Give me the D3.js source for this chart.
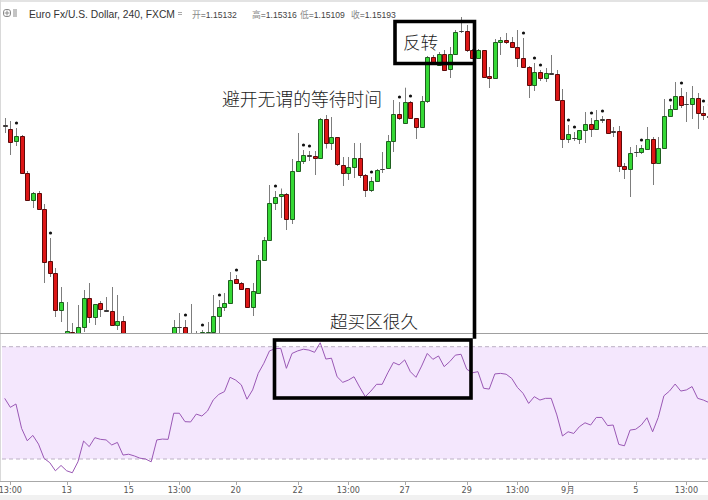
<!DOCTYPE html>
<html><head><meta charset="utf-8">
<script src="https://cdn.jsdelivr.net/npm/d3@7"></script>
<style>html,body{margin:0;padding:0;background:#fff;overflow:hidden}svg{display:block}</style>
</head><body>
<svg id="c" width="708" height="500"></svg>
<script>
// ---- data (EUR/USD 4h candles) ----
const opens = [1.16345,1.1631,1.1619,1.1624,1.1587,1.1560,1.1567,1.1551,1.1499,1.1487,1.1450,1.1420,1.1428,1.1418,1.1433,1.1462,1.1443,1.1457,1.14505,1.1449,1.1435,1.1439,1.1422,1.1410,1.1404,1.1398,1.1395,1.1380,1.1408,1.1410,1.1409,1.14328,1.1433,1.1418,1.1422,1.1419,1.1422,1.1428,1.1444,1.1453,1.1457,1.1481,1.1477,1.1472,1.1453,1.1467,1.1500,1.1520,1.1557,1.1564,1.15665,1.15405,1.1589,1.1599,1.1605,1.1604,1.1602,1.1641,1.1617,1.16225,1.1595,1.1587,1.1593,1.1602,1.15855,1.15705,1.1579,1.1591,1.1592,1.1619,1.1646,1.1637,1.1658,1.1642,1.1633,1.1659,1.1703,1.1695,1.1706,1.1691,1.1706,1.1729,1.17285,1.1710,1.1702,1.1710,1.1684,1.1682,1.1718,1.1720,1.1718,1.1713,1.1702,1.1693,1.1675,1.1688,1.1682,1.16865,1.1686,1.1660,1.1621,1.1622,1.1621,1.1630,1.1636,1.1631,1.1640,1.1641,1.1629,1.1629,1.1594,1.1591,1.1608,1.1608,1.1611,1.1621,1.1597,1.1612,1.1644,1.1651,1.1664,1.1656,1.1656,1.1662,1.1647,1.1644];
const highs = [1.1642,1.1639,1.1632,1.1625,1.1589,1.1568,1.1569,1.1556,1.1522,1.1492,1.1473,1.1458,1.1437,1.1455,1.1470,1.1477,1.1456,1.1459,1.1463,1.1473,1.1465,1.1444,1.1426,1.1418,1.1410,1.1405,1.1399,1.1412,1.1415,1.1414,1.1440,1.1447,1.1440,1.1456,1.1429,1.1430,1.1438,1.1465,1.1460,1.1467,1.1488,1.1485,1.1478,1.1472,1.1477,1.1505,1.1523,1.1575,1.1569,1.15715,1.1567,1.1601,1.1627,1.1610,1.1609,1.1609,1.1642,1.1645,1.1643,1.1623,1.1603,1.1603,1.1617,1.1617,1.1586,1.1583,1.1591,1.1608,1.1625,1.1660,1.1658,1.16723,1.1659,1.1642,1.1664,1.1704,1.1705,1.1708,1.1710,1.1713,1.1730,1.1743,1.1735,1.1711,1.1711,1.1710,1.1693,1.1721,1.1723,1.1727,1.1723,1.1730,1.1722,1.1694,1.1697,1.1690,1.1692,1.1705,1.1690,1.1671,1.1635,1.1628,1.1630,1.1648,1.1642,1.1650,1.1644,1.1641,1.1633,1.1634,1.1597,1.1613,1.1615,1.1615,1.1633,1.1623,1.1623,1.1661,1.1655,1.1678,1.1672,1.1668,1.1674,1.1667,1.1654,1.1650];
const lows = [1.1627,1.1605,1.1614,1.1586,1.1559,1.1552,1.1550,1.1477,1.1483,1.1443,1.1438,1.1410,1.1412,1.1410,1.1428,1.1437,1.1435,1.1443,1.1448,1.1434,1.1430,1.1415,1.1405,1.1398,1.1392,1.1388,1.1372,1.1377,1.1400,1.1402,1.1405,1.1424,1.1418,1.1412,1.1410,1.1412,1.1418,1.1424,1.1427,1.1449,1.1457,1.1476,1.1470,1.1453,1.1444,1.1467,1.1499,1.1520,1.1550,1.1542,1.1530,1.1536,1.1588,1.1596,1.1599,1.1585,1.1602,1.16115,1.1610,1.1594,1.1574,1.1580,1.1582,1.1582,1.1563,1.1568,1.1578,1.1587,1.1592,1.1608,1.1640,1.1636,1.1641,1.1621,1.1633,1.1657,1.1698,1.1695,1.1689,1.1682,1.1706,1.1727,1.1708,1.1701,1.1701,1.1682,1.1672,1.1682,1.1705,1.1716,1.1712,1.1693,1.1693,1.1662,1.1669,1.1679,1.1678,1.1686,1.1660,1.1612,1.1617,1.1619,1.1616,1.1617,1.1623,1.1630,1.1637,1.1627,1.1623,1.1588,1.1581,1.1563,1.1603,1.1606,1.1611,1.1575,1.1597,1.1612,1.1644,1.1651,1.1652,1.1638,1.1641,1.1631,1.1640,1.1638];
const closes = [1.16335,1.1618,1.1624,1.1587,1.1560,1.1567,1.1551,1.1498,1.1487,1.1450,1.1458,1.1429,1.1420,1.1433,1.1462,1.1443,1.1456,1.1451,1.14495,1.1435,1.1439,1.1422,1.1410,1.1404,1.1398,1.1395,1.1380,1.1408,1.1410,1.1409,1.1433,1.14325,1.1423,1.1422,1.1419,1.1428,1.14285,1.1444,1.1453,1.1457,1.1480,1.1477,1.1471,1.1453,1.1469,1.1500,1.1520,1.1557,1.15635,1.1566,1.15405,1.1589,1.1599,1.1605,1.1604,1.1602,1.1641,1.1617,1.16225,1.15955,1.1587,1.1593,1.1602,1.15855,1.15705,1.1579,1.1590,1.15915,1.1619,1.16465,1.1642,1.1658,1.1642,1.1633,1.1659,1.1703,1.1698,1.1706,1.1690,1.1706,1.1728,1.17285,1.1710,1.1702,1.1710,1.1683,1.16817,1.1718,1.1720,1.1718,1.1713,1.1702,1.1693,1.1675,1.1688,1.1682,1.1687,1.1686,1.1660,1.1621,1.1626,1.16215,1.1630,1.1636,1.1631,1.1640,1.16405,1.1627,1.16285,1.1594,1.15907,1.1607,1.16085,1.1612,1.1621,1.1597,1.1612,1.1644,1.1651,1.1664,1.1655,1.16555,1.1662,1.1647,1.1645,1.1643];
const rsiValues = [51.6,48.4,49.6,40.9,36.5,38.4,35.3,30.2,28.7,25.8,27.7,25.8,25.1,29.0,36.4,34.4,37.6,37.0,36.8,35.0,35.9,31.4,31.7,31.1,30.3,30.0,29.0,36.8,37.1,37.0,46.3,46.3,43.3,43.2,46.0,45.3,47.1,51.0,53.0,54.0,59.1,58.1,56.4,51.3,54.6,60.5,64.1,68.5,69.3,69.4,62.3,67.6,68.5,69.1,68.8,68.0,71.4,65.6,65.9,59.3,57.3,58.1,59.3,55.6,52.2,54.2,56.6,56.6,60.7,64.4,63.5,65.3,61.1,59.1,63.1,67.6,65.5,66.7,62.9,64.7,67.0,67.3,62.0,60.7,61.1,55.2,54.9,60.3,60.5,60.2,58.7,55.5,53.4,49.8,52.2,51.0,51.6,51.6,45.7,38.2,39.7,39.1,41.5,42.9,42.1,44.8,44.8,41.9,42.1,35.2,34.7,40.3,40.6,42.1,44.7,39.7,44.8,52.5,54.2,56.7,54.2,54.6,55.8,51.6,51.0,50.1];
const markerIdx = [2,8,32,35,38,41,48,53,54,65,70,72,92,94,95,100,101,104,106,113,118,120,124,125];
const tickIdx = [1,11,22,31,41,52,61,71,82,91,100,112,121];
const tickLabels = ["13:00","13","15","13:00","20","22","13:00","27","29","13:00","9月","5","13:00"];
const headerLabels = ["开","高","低","收"];
const headerValues = ["1.15132","1.15316","1.15109","1.15193"];
const rsiLevels = [70,30];

// ---- drawing ----
const svg = d3.select("#c");
const W = 708, H = 500, paneBottom = 333;
const x = d3.scaleLinear().domain([0,125]).range([4.7, 4.7+125*5.634]);
const y = d3.scaleLinear().domain([1.1427,1.1760]).range([paneBottom,0]);
const yr = d3.scaleLinear().domain([30,70]).range([459,346.7]);

svg.append("rect").attr("x",0).attr("y",0).attr("width",W).attr("height",H).attr("fill","#fff");
// frame
svg.append("line").attr("x1",0).attr("x2",W).attr("y1",1).attr("y2",1).attr("stroke","#e3e3e3").attr("stroke-width",2);
svg.append("line").attr("x1",0.5).attr("x2",0.5).attr("y1",0).attr("y2",482).attr("stroke","#d9d9d9");
svg.append("rect").attr("x",0).attr("y",495).attr("width",W).attr("height",5).attr("fill","#f1f1f1");

// price pane
const defs = svg.append("defs");
defs.append("clipPath").attr("id","pc").append("rect").attr("x",0).attr("y",0).attr("width",W).attr("height",paneBottom);
const pg = svg.append("g").attr("clip-path","url(#pc)");
const candles = opens.map((o,i)=>({i,o,h:highs[i],l:lows[i],c:closes[i]}));
pg.selectAll("line.w").data(candles).join("line").attr("class","w")
  .attr("x1",d=>Math.round(x(d.i))+0.5).attr("x2",d=>Math.round(x(d.i))+0.5)
  .attr("y1",d=>y(d.h)).attr("y2",d=>y(d.l)).attr("stroke","#7d7d7d").attr("stroke-width",1);
pg.selectAll("path.b").data(candles).join("path").attr("class","b")
  .attr("d",d=>{
    const cx = Math.round(x(d.i));
    const t = Math.round(y(Math.max(d.o,d.c)))+0.5;
    const b = Math.max(Math.round(y(Math.min(d.o,d.c)))+0.5, t);
    return `M${cx-1.5},${t}H${cx+2.5}V${b}H${cx-1.5}Z`;
  })
  .attr("fill",d=>d.c>=d.o?"#35d935":"#dd1616")
  .attr("stroke",d=>{
    const flat = Math.abs(y(d.o)-y(d.c))<1.2;
    if(flat) return "#3a3a3a";
    return d.c>=d.o?"#1f5f1f":"#5c0a0a";
  })
  .attr("stroke-width",1);
pg.selectAll("circle.m").data(markerIdx.map(i=>candles[i])).join("circle").attr("class","m")
  .attr("cx",d=>Math.round(x(d.i))+0.5).attr("cy",d=>y(d.h)-5).attr("r",1.6).attr("fill","#111");

// separator
svg.append("line").attr("x1",0).attr("x2",W).attr("y1",333.5).attr("y2",333.5).attr("stroke","#a0a0a0");

// RSI pane
svg.append("rect").attr("x",2).attr("width",W-2).attr("y",yr(70)).attr("height",yr(30)-yr(70)).attr("fill","#f4e7fd");
svg.selectAll("line.lv").data(rsiLevels).join("line").attr("class","lv")
  .attr("x1",2).attr("x2",W).attr("y1",d=>yr(d)).attr("y2",d=>yr(d))
  .attr("stroke","#bcb0c4").attr("stroke-dasharray","4,3");
const rg = svg.append("g");
rg.append("path").datum(rsiValues)
  .attr("d",d3.line().x((v,i)=>x(i)).y(v=>yr(v)))
  .attr("fill","none").attr("stroke","#9a58b5").attr("stroke-width",1);

// time axis
svg.append("line").attr("x1",0).attr("x2",W).attr("y1",481.5).attr("y2",481.5).attr("stroke","#a8a8a8");
const ax = svg.append("g");
ax.selectAll("line").data(tickIdx).join("line")
  .attr("x1",d=>Math.round(x(d))+0.5).attr("x2",d=>Math.round(x(d))+0.5)
  .attr("y1",482).attr("y2",485).attr("stroke","#a8a8a8");
ax.selectAll("text").data(tickIdx).join("text")
  .attr("x",d=>x(d)).attr("y",492.5).attr("text-anchor","middle")
  .attr("font-family","'Liberation Sans Narrow','DejaVu Sans Condensed','Liberation Sans',sans-serif")
  .attr("font-size",9).attr("fill","#555")
  .text((d,k)=>tickLabels[k]);

// header
const hd = svg.append("g");
hd.append("rect").attr("x",3.5).attr("y",9.5).attr("width",7).attr("height",7).attr("rx",2.5)
  .attr("fill","none").attr("stroke","#8a8a8a");
hd.append("path").attr("d","M7,10.5V15.5M4.5,13H9.5").attr("stroke","#8a8a8a");
hd.append("rect").attr("x",13).attr("y",9).attr("width",4).attr("height",8).attr("fill","#c4c4c4");
hd.append("text").attr("x",29).attr("y",18).attr("font-family","'Liberation Sans',Arial,sans-serif")
  .attr("font-size",10.3).attr("fill","#333").text("Euro Fx/U.S. Dollar, 240, FXCM");
hd.append("path").attr("d","M178,12.5H182M178,14.5H182").attr("stroke","#aaa");
const hx = [192,252,300,351];
headerLabels.forEach((lab,k)=>{
  const t = hd.append("text").attr("x",hx[k]).attr("y",18).attr("font-size",8.6)
    .attr("font-family","'Liberation Sans',sans-serif");
  t.append("tspan").attr("fill","#8a8a8a").attr("font-family","'Noto Sans CJK SC',sans-serif").attr("font-size",8.8).text(lab);
  t.append("tspan").attr("fill","#444").text("="+headerValues[k]);
});

// annotations
const ann = svg.append("g").attr("fill","none").attr("stroke","#000").attr("stroke-width",3.6);
ann.append("path").attr("d","M474.5,337V21.5H395V63.5H474.5").attr("stroke-linejoin","miter").attr("stroke-linecap","square");
ann.append("rect").attr("x",274.5).attr("y",340).attr("width",196.5).attr("height",58);
const tf = "'Noto Sans CJK SC','Noto Sans CJK JP',sans-serif";
svg.append("text").attr("x",403).attr("y",48.5).attr("font-family",tf).attr("font-weight",300).attr("font-size",17.6).attr("fill","#1a1a1a").text("反转");
svg.append("text").attr("x",222).attr("y",105.5).attr("font-family",tf).attr("font-weight",300).attr("font-size",17.8).attr("fill","#1a1a1a").text("避开无谓的等待时间");
svg.append("text").attr("x",330).attr("y",328).attr("font-family",tf).attr("font-weight",300).attr("font-size",17.6).attr("fill","#1a1a1a").text("超买区很久");
</script>
</body></html>
